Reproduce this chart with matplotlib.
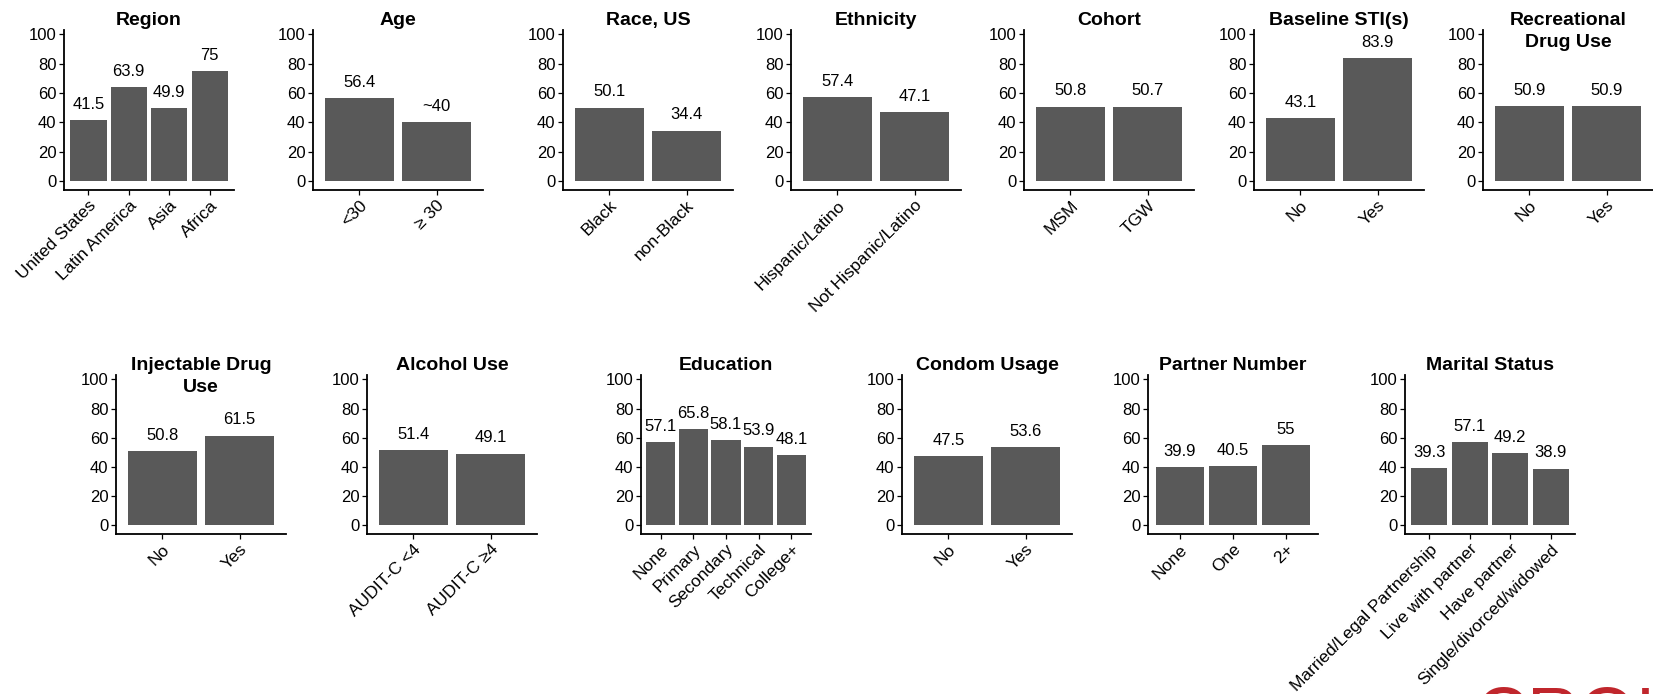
import matplotlib
matplotlib.use("Agg")
import matplotlib.pyplot as plt

plt.rcParams['font.family'] = ['Liberation Sans', 'DejaVu Sans']

# figure size in pixels at dpi=100
FIG_W, FIG_H = 1653, 694
BAR_COLOR = '#595959'

# ---- data: percent per subgroup ----
region_cats = ["United States", "Latin America", "Asia", "Africa"]
region_vals = [41.5, 63.9, 49.9, 75]

age_cats = ["<30", "\u2265 30"]
age_vals = [56.4, 40]
age_text = ["56.4", "~40"]

race_cats = ["Black", "non-Black"]
race_vals = [50.1, 34.4]

ethnicity_cats = ["Hispanic/Latino", "Not Hispanic/Latino"]
ethnicity_vals = [57.4, 47.1]

cohort_cats = ["MSM", "TGW"]
cohort_vals = [50.8, 50.7]

sti_cats = ["No", "Yes"]
sti_vals = [43.1, 83.9]

recdrug_cats = ["No", "Yes"]
recdrug_vals = [50.9, 50.9]

injdrug_cats = ["No", "Yes"]
injdrug_vals = [50.8, 61.5]

alcohol_cats = ["AUDIT-C <4", "AUDIT-C \u22654"]
alcohol_vals = [51.4, 49.1]

education_cats = ["None", "Primary", "Secondary", "Technical", "College+"]
education_vals = [57.1, 65.8, 58.1, 53.9, 48.1]

condom_cats = ["No", "Yes"]
condom_vals = [47.5, 53.6]

partner_cats = ["None", "One", "2+"]
partner_vals = [39.9, 40.5, 55]

marital_cats = ["Married/Legal Partnership", "Live with partner",
                "Have partner", "Single/divorced/widowed"]
marital_vals = [39.3, 57.1, 49.2, 38.9]


def add_panel(fig, left, top, title, cats, vals, texts=None,
              width=170, height=160):
    """One small bar panel; left/top given in pixels from the top-left corner."""
    ax = fig.add_axes([left / FIG_W, 1 - (top + height) / FIG_H,
                       width / FIG_W, height / FIG_H])
    x = list(range(len(cats)))
    ax.bar(x, vals, width=0.9, color=BAR_COLOR)
    if texts is None:
        texts = [f"{v:g}" for v in vals]
    for xi, v, t in zip(x, vals, texts):
        ax.annotate(t, (xi, v), xytext=(0, 6), textcoords='offset points',
                    ha='center', va='bottom', fontsize=12, color='black')

    ax.set_xlim(-0.6, len(cats) - 0.4)
    ax.set_ylim(-6, 103)
    ax.set_yticks([0, 20, 40, 60, 80, 100])
    ax.set_xticks(x)
    ax.set_xticklabels(cats, rotation=45, ha='right', va='top',
                       rotation_mode='anchor', fontsize=12.5)
    ax.tick_params(axis='y', labelsize=12)
    ax.tick_params(length=3.5, width=0.9, color='black', pad=2)
    for side in ('top', 'right'):
        ax.spines[side].set_visible(False)
    for side in ('left', 'bottom'):
        ax.spines[side].set_linewidth(1.3)
        ax.spines[side].set_color('black')

    # title sits at a fixed height above the panel, two-line ones overlap it
    fig.text((left + width / 2) / FIG_W, 1 - (top - 18) / FIG_H, title,
             ha='center', va='top', fontsize=14, fontweight='bold',
             linespacing=1.4)
    return ax


fig = plt.figure(figsize=(FIG_W / 100, FIG_H / 100), dpi=100)

top_row = [
    (64, "Region", region_cats, region_vals, None),
    (313, "Age", age_cats, age_vals, age_text),
    (563, "Race, US", race_cats, race_vals, None),
    (791, "Ethnicity", ethnicity_cats, ethnicity_vals, None),
    (1024, "Cohort", cohort_cats, cohort_vals, None),
    (1254, "Baseline STI(s)", sti_cats, sti_vals, None),
    (1483, "Recreational\nDrug Use", recdrug_cats, recdrug_vals, None),
]
bottom_row = [
    (116, "Injectable Drug\nUse", injdrug_cats, injdrug_vals, None),
    (367, "Alcohol Use", alcohol_cats, alcohol_vals, None),
    (641, "Education", education_cats, education_vals, None),
    (902, "Condom Usage", condom_cats, condom_vals, None),
    (1148, "Partner Number", partner_cats, partner_vals, None),
    (1405, "Marital Status", marital_cats, marital_vals, None),
]

for left, title, cats, vals, texts in top_row:
    add_panel(fig, left, 30, title, cats, vals, texts)
for left, title, cats, vals, texts in bottom_row:
    add_panel(fig, left, 375, title, cats, vals, texts, height=159)

# conference logo, cut off by the lower edge
fig.text(1475 / FIG_W, 1 - 686 / FIG_H, "CROI", color='#c0262c',
         fontsize=52, ha='left', va='top')

fig.savefig("out.png", dpi=100)
